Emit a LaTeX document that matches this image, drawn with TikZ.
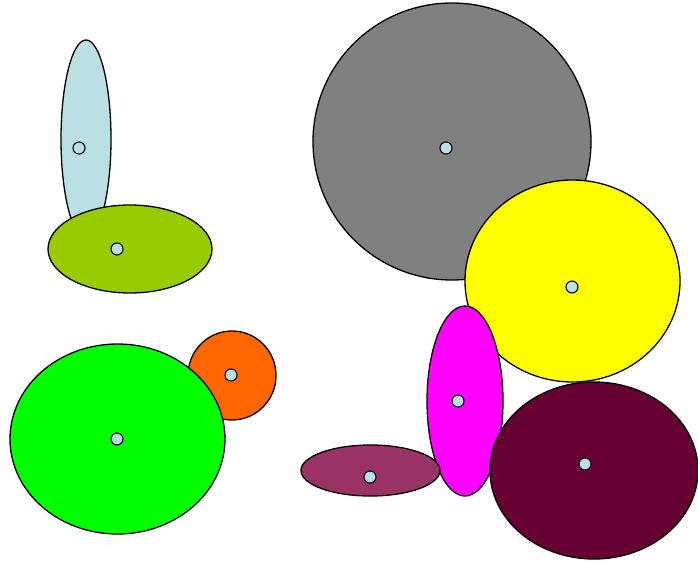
\documentclass[tikz,border=0pt]{standalone}
\usetikzlibrary{shapes.geometric}
\definecolor{paleblue}{HTML}{BBE0E3}
\definecolor{olivegreen}{HTML}{99CC00}
\definecolor{brightorange}{HTML}{FF6600}
\definecolor{puregreen}{HTML}{00FF00}
\definecolor{midgray}{HTML}{808080}
\definecolor{pureyellow}{HTML}{FFFF00}
\definecolor{puremagenta}{HTML}{FF00FF}
\definecolor{plum}{HTML}{993366}
\definecolor{maroon}{HTML}{660033}

\begin{document}
\begin{tikzpicture}[
    x=1pt, y=-1pt,
    blob/.style={ellipse, draw, line width=1.3pt, inner sep=0pt},
    ctrdot/.style={circle, draw, fill=paleblue, line width=1.1pt, minimum size=12pt, inner sep=0pt}
]
  \useasboundingbox (0,0) rectangle (698,562);

  % upper left pair
  \node[blob, fill=paleblue, minimum width=50pt, minimum height=198pt] (tallblue) at (86,139) {};
  \node[blob, fill=olivegreen, minimum width=164pt, minimum height=88pt] (flatolive) at (130,249) {};

  % lower left pair
  \node[blob, fill=brightorange, minimum width=88pt, minimum height=89pt] (smallorange) at (232,375.5) {};
  \node[blob, fill=puregreen, minimum width=215pt, minimum height=190pt] (biggreen) at (117.5,439) {};

  % right cluster
  \node[blob, fill=midgray, minimum width=278pt, minimum height=277pt] (biggray) at (452,141.5) {};
  \node[blob, fill=pureyellow, minimum width=215pt, minimum height=202pt] (roundyellow) at (572.5,281) {};
  \node[blob, fill=puremagenta, minimum width=76pt, minimum height=190pt] (tallmagenta) at (465,401) {};
  \node[blob, fill=plum, minimum width=139pt, minimum height=51pt] (flatplum) at (370.5,470.5) {};
  \node[blob, fill=maroon, minimum width=208pt, minimum height=177pt] (bigmaroon) at (594,470.5) {};

  % centre marks
  \node[ctrdot] (dot-tallblue) at (79,148) {};
  \node[ctrdot] (dot-flatolive) at (117,249) {};
  \node[ctrdot] (dot-smallorange) at (231,375) {};
  \node[ctrdot] (dot-biggreen) at (117,439) {};
  \node[ctrdot] (dot-biggray) at (446,148) {};
  \node[ctrdot] (dot-roundyellow) at (572,287) {};
  \node[ctrdot] (dot-tallmagenta) at (458,401) {};
  \node[ctrdot] (dot-flatplum) at (370,477) {};
  \node[ctrdot] (dot-bigmaroon) at (585,464) {};
\end{tikzpicture}
\end{document}
